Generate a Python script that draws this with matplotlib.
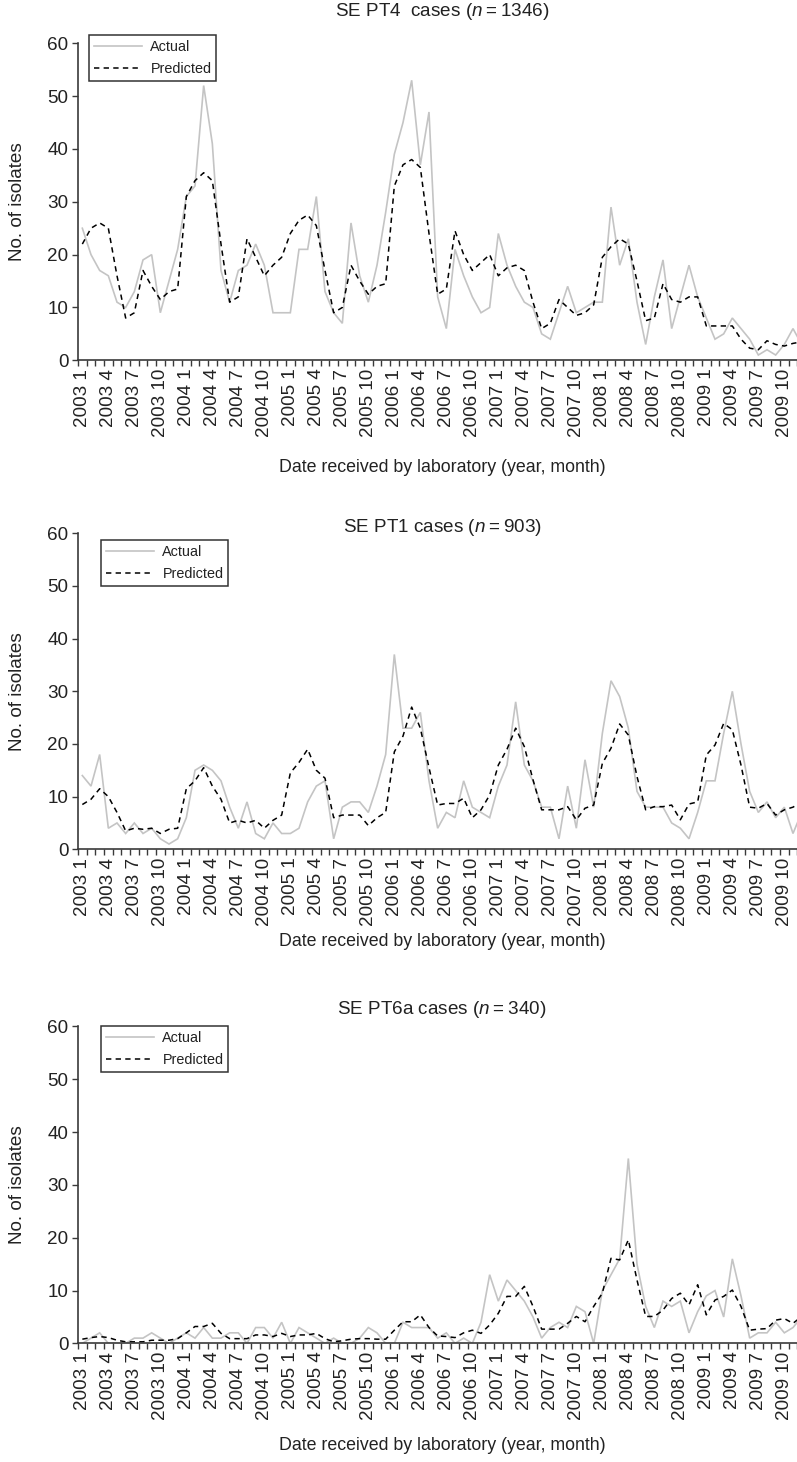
import numpy as np
import matplotlib.pyplot as plt
from matplotlib import font_manager

# Prefer a narrow sans if present, otherwise plain Liberation Sans
_names = {f.name for f in font_manager.fontManager.ttflist}
NARROW = 'Liberation Sans Narrow' in _names
FAMILY = 'Liberation Sans Narrow' if NARROW else 'Liberation Sans'
K = 1.0 / 0.82 if NARROW else 1.0

plt.rcParams['font.family'] = [FAMILY, 'DejaVu Sans']
plt.rcParams['mathtext.fontset'] = 'custom'
plt.rcParams['mathtext.rm'] = FAMILY
plt.rcParams['mathtext.it'] = FAMILY + ':italic'

# Monthly series, Jan 2003 .. Dec 2009
years = list(range(2003, 2010))
months = list(range(1, 13))
month_labels = [f'{y} {m}' for y in years for m in months]

pt4_actual = [25, 20, 17, 16, 11, 10, 13, 19, 20, 9,
              15, 21, 31, 33, 52, 41, 17, 11, 17, 18,
              22, 18, 9, 9, 9, 21, 21, 31, 13, 9,
              7, 26, 16, 11, 18, 28, 39, 45, 53, 37,
              47, 12, 6, 21, 16, 12, 9, 10, 24, 18,
              14, 11, 10, 5, 4, 9, 14, 9, 10, 11,
              11, 29, 18, 23, 11, 3, 12, 19, 6, 12,
              18, 12, 8, 4, 5, 8, 6, 4, 1, 2,
              1, 3, 6, 3]
pt4_pred = [22, 25, 26, 25, 16, 8, 9, 17, 14, 11.5,
            13, 13.5, 31, 34, 35.5, 34, 22, 11, 12, 23,
            19.5, 16, 18, 19.5, 24, 26.5, 27.5, 25.5, 17, 9,
            10, 18, 15, 12.5, 14, 14.5, 33, 37, 38, 36.5,
            24, 12.5, 13.5, 24.5, 20, 17, 18.5, 20, 16, 17.5,
            18, 17, 11, 6, 7, 11.5, 10, 8.5, 9, 10.5,
            19.5, 21.5, 23, 22, 15, 7.5, 8, 14.5, 11.5, 11,
            12, 12, 6.5, 6.5, 6.5, 6.5, 4, 2.3, 2, 3.7,
            3, 2.7, 3.2, 3.5]

pt1_actual = [14, 12, 18, 4, 5, 3, 5, 3, 4, 2,
              1, 2, 6, 15, 16, 15, 13, 8, 4, 9,
              3, 2, 5, 3, 3, 4, 9, 12, 13, 2,
              8, 9, 9, 7, 12, 18, 37, 23, 23, 26,
              13, 4, 7, 6, 13, 8, 7, 6, 12, 16,
              28, 16, 13, 8, 8, 2, 12, 4, 17, 8,
              22, 32, 29, 23, 11, 8, 8, 8, 5, 4,
              2, 7, 13, 13, 22, 30, 20, 11, 7, 9,
              6, 8, 3, 7]
pt1_pred = [8.5, 9.5, 11.5, 10, 7, 3.5, 4, 3.8, 4, 3,
            3.8, 4, 11.5, 13, 15.5, 12, 9.5, 5, 5.5, 5,
            5.5, 4, 5.5, 6.5, 14.5, 16.5, 19, 15, 13.5, 6,
            6.5, 6.5, 6.5, 4.5, 6, 7, 18.5, 21.5, 27, 23,
            15.5, 8.4, 8.7, 8.7, 9.7, 6, 7.5, 10.3, 16, 19,
            23, 19.5, 13.2, 7.5, 7.5, 7.5, 8.1, 5.6, 7.8, 8.4,
            16.3, 19.2, 23.8, 21.7, 13.8, 7.5, 8.1, 8.1, 8.4, 5.6,
            8.6, 9, 17.9, 19.8, 23.9, 22.7, 16, 8, 7.8, 8.7,
            6.5, 7.5, 8, 9]

pt6a_actual = [0, 1, 2, 0, 0, 0, 1, 1, 2, 1,
               0, 1, 2, 1, 3, 1, 1, 2, 2, 0,
               3, 3, 1, 4, 0, 3, 2, 1, 0, 1,
               0, 0, 1, 3, 2, 0, 0, 4, 3, 3,
               3, 1, 2, 0, 1, 0, 4, 13, 8, 12,
               10, 8, 5, 1, 3, 4, 3, 7, 6, 0,
               10, 13, 16, 35, 15, 7, 3, 8, 7, 8,
               2, 6, 9, 10, 5, 16, 9, 1, 2, 2,
               4, 2, 3, 5]
pt6a_pred = [0.8, 1.1, 1.3, 1.1, 0.6, 0.3, 0.3, 0.3, 0.6, 0.6,
             0.6, 0.9, 2, 3.2, 3.2, 3.8, 1.9, 0.9, 0.9, 0.9,
             1.6, 1.6, 1.3, 1.9, 1.3, 1.6, 1.6, 1.9, 0.9, 0.3,
             0.5, 0.8, 0.9, 0.9, 0.8, 0.8, 2.5, 4.1, 4.1, 5.4,
             3, 1.4, 1.3, 1.1, 2, 2.5, 1.9, 3.5, 5.7, 8.9,
             8.9, 10.8, 7, 2.7, 2.7, 2.7, 3.8, 5.1, 4.1, 7,
             9.5, 16.1, 15.8, 19.6, 12, 5.1, 5.1, 6.3, 8.5, 9.5,
             7.3, 11.1, 5.4, 8.2, 8.9, 10.1, 7, 2.5, 2.7, 2.8,
             4.4, 4.7, 3.8, 5.1]

titles = ['SE PT4  cases ($n$\u2009=\u20091346)',
          'SE PT1 cases ($n$\u2009=\u2009903)',
          'SE PT6a cases ($n$\u2009=\u2009340)']

# layout in pixels: (axes top, axes bottom, title y, xlabel y, legend top, legend left)
W, H = 797, 1462
panels = [(43.3, 360.3, 12, 468, 35, 89),
          (533.3, 849.3, 527, 941, 540, 101),
          (1026.4, 1343.4, 1010, 1446, 1026, 101)]
series = [(pt4_actual, pt4_pred), (pt1_actual, pt1_pred), (pt6a_actual, pt6a_pred)]

TXT = '#222222'
SPINE = '#3a3a3a'
GREY = '#c4c4c4'
LEFT, WIDTH = 78, 728

fig = plt.figure(figsize=(W / 100, H / 100), dpi=100)
x = np.arange(len(month_labels))

for (top, bot, ty, xy, lt, ll), (act, pred), title in zip(panels, series, titles):
    ax = fig.add_axes([LEFT / W, 1 - bot / H, WIDTH / W, (bot - top) / H])
    ax.plot(x, act, color=GREY, lw=1.2, label='Actual', solid_joinstyle='miter')
    ax.plot(x, pred, color='black', lw=1.1, linestyle=(0, (3.5, 2.8)), label='Predicted')

    ax.set_xlim(-0.5, len(x) - 0.5)
    ax.set_ylim(0, 60)
    ax.set_yticks(range(0, 61, 10))
    ax.set_xticks(x[::3])
    ax.set_xticklabels(month_labels[::3], rotation=90)
    ax.set_xticks(np.arange(-0.5, len(x), 1), minor=True)

    ax.tick_params(axis='x', which='major', length=0, pad=6,
                   labelsize=13.6 * K, labelcolor=TXT)
    ax.tick_params(axis='x', which='minor', length=4, width=1.0,
                   color=SPINE, direction='out')
    ax.tick_params(axis='y', length=4, width=1.0, color=SPINE, pad=3,
                   labelsize=13.6 * K, labelcolor=TXT)

    for side in ('top', 'right'):
        ax.spines[side].set_visible(False)
    for side in ('left', 'bottom'):
        ax.spines[side].set_color(SPINE)
        ax.spines[side].set_linewidth(1.2)

    fig.text((LEFT + WIDTH / 2) / W, 1 - ty / H, title, ha='center', va='center',
             fontsize=13.6 * K, color=TXT)
    fig.text((LEFT + WIDTH / 2) / W, 1 - xy / H,
             'Date received by laboratory (year, month)',
             ha='center', va='center', fontsize=12.8 * K, color=TXT)
    fig.text(18 / W, 1 - (top + bot) / 2 / H, 'No. of isolates', rotation=90,
             ha='center', va='center', fontsize=13.6 * K, color=TXT)

    leg = ax.legend(loc='upper left', bbox_to_anchor=(ll / W, 1 - lt / H),
                    bbox_transform=fig.transFigure, borderaxespad=0,
                    fontsize=10.4 * K, frameon=True, fancybox=False,
                    handlelength=3.3, handletextpad=0.6, labelspacing=0.55,
                    borderpad=0.35)
    leg.get_frame().set_edgecolor('black')
    leg.get_frame().set_linewidth(1.1)
    for t in leg.get_texts():
        t.set_color(TXT)

fig.savefig('out.png', dpi=100)
